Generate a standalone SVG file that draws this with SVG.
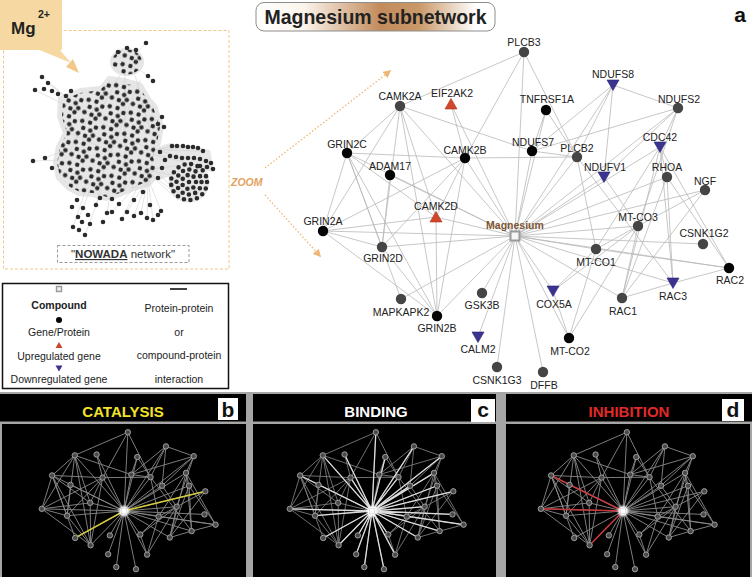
<svg xmlns="http://www.w3.org/2000/svg" xmlns:xlink="http://www.w3.org/1999/xlink" width="752" height="577" viewBox="0 0 752 577">
<defs>
<style>
.lbl{font-family:"Liberation Sans",Arial,sans-serif;font-size:10.5px;fill:#222;text-anchor:middle}
.g{fill:#454545}
.k{fill:#050505}
.up{fill:#d2472b;stroke:#a9321b;stroke-width:0.6}
.dn{fill:#3a3490;stroke:#28226e;stroke-width:0.6}
.leg{font-family:"Liberation Sans",Arial,sans-serif;font-size:10.5px;fill:#222;text-anchor:middle}
.hdr{font-family:"Liberation Sans",Arial,sans-serif;font-size:15px;font-weight:bold;text-anchor:middle}
.tag{font-family:"Liberation Sans",Arial,sans-serif;font-size:21px;font-weight:bold;text-anchor:middle;fill:#111}
.hb{stroke:#2b2b2b;stroke-width:4.6;stroke-linecap:round;fill:none}
</style>
<linearGradient id="titleGrad" x1="0" x2="1" y1="0" y2="0">
<stop offset="0" stop-color="#ffffff"/>
<stop offset="0.2" stop-color="#fbf4ec"/>
<stop offset="0.52" stop-color="#c38b5c"/>
<stop offset="0.68" stop-color="#c99868"/>
<stop offset="0.92" stop-color="#ffffff"/>
<stop offset="1" stop-color="#ffffff"/>
</linearGradient>
<pattern id="dots" width="22" height="22" patternUnits="userSpaceOnUse" patternTransform="rotate(17)">
<g fill="#2b2b2b">
<circle cx="4" cy="3.5" r="2.25"/><circle cx="12" cy="3" r="2.25"/><circle cx="19" cy="6" r="2.25"/>
<circle cx="7" cy="10" r="2.25"/><circle cx="14.5" cy="10.5" r="2.25"/><circle cx="3.5" cy="16.5" r="2.25"/>
<circle cx="11" cy="17" r="2.25"/><circle cx="18.5" cy="14.5" r="2.25"/><circle cx="16" cy="19.5" r="2.25"/>
</g>
</pattern>
<marker id="zarrow" viewBox="0 0 10 10" refX="8" refY="5" markerWidth="8" markerHeight="8" orient="auto" markerUnits="userSpaceOnUse">
<path d="M0,0 L10,5 L0,10 z" fill="#f0b677"/>
</marker>
<filter id="glow" x="-2" y="-2" width="5" height="5"><feGaussianBlur stdDeviation="2.5"/></filter>
<g id="miniNodes">
<circle cx="524" cy="52" r="6.3"/><circle cx="613" cy="85" r="6.3"/><circle cx="678" cy="108" r="6.3"/>
<circle cx="400" cy="106" r="6.3"/><circle cx="451" cy="104" r="6.3"/><circle cx="546" cy="110" r="6.3"/>
<circle cx="347" cy="153" r="6.3"/><circle cx="465" cy="158" r="6.3"/><circle cx="532" cy="151" r="6.3"/>
<circle cx="577" cy="157" r="6.3"/><circle cx="660" cy="147" r="6.3"/><circle cx="390" cy="175" r="6.3"/>
<circle cx="604" cy="177" r="6.3"/><circle cx="667" cy="177" r="6.3"/><circle cx="705" cy="190" r="6.3"/>
<circle cx="436" cy="217" r="6.3"/><circle cx="323" cy="231" r="6.3"/><circle cx="638" cy="226" r="6.3"/>
<circle cx="703" cy="244" r="6.3"/><circle cx="382" cy="247" r="6.3"/><circle cx="596" cy="249" r="6.3"/>
<circle cx="729" cy="268" r="6.3"/><circle cx="673" cy="283" r="6.3"/><circle cx="553" cy="291" r="6.3"/>
<circle cx="482" cy="293" r="6.3"/><circle cx="622" cy="298" r="6.3"/><circle cx="401" cy="299" r="6.3"/>
<circle cx="437" cy="316" r="6.3"/><circle cx="478" cy="337" r="6.3"/><circle cx="569" cy="338" r="6.3"/>
<circle cx="497" cy="367" r="6.3"/><circle cx="543" cy="372" r="6.3"/>
</g>
<path id="hubLines" d="M515 236L400 106M515 236L451 104M515 236L347 153M515 236L323 231M515 236L382 247M515 236L401 299M515 236L437 316M515 236L478 337M515 236L497 367M515 236L543 372M515 236L569 338M515 236L622 298M515 236L673 283M515 236L729 268M515 236L703 244M515 236L705 190M515 236L660 147M515 236L678 108M515 236L613 85M515 236L546 110M515 236L524 52M515 236L667 177M515 236L638 226M515 236L577 157M515 236L465 158M515 236L482 293M515 236L553 291M515 236L604 177"/>
</defs>

<rect width="752" height="577" fill="#ffffff"/>

<!-- Left: NOWADA network overview -->
<g id="overview">
<rect x="3.5" y="30.5" width="225.5" height="238.5" fill="none" stroke="#f3c58a" stroke-width="1" stroke-dasharray="3 2"/>
<g fill="#e6e6e6">
<polygon points="58,97 80,88 100,86 108,76 125,78 142,83 150,97 157,105 164,126 161,143 157,157 161,174 150,186 134,191 120,197 106,201 92,197 78,196 67,190 56,179 53,163 56,146 63,133 57,117"/>
<ellipse cx="127" cy="62" rx="17" ry="14"/>
<circle cx="189" cy="182" r="20.5"/>
<polygon points="150,150 170,143 210,150 214,172 190,168 160,180"/>
</g>
<g stroke="#d2d2d2" stroke-width="0.6" fill="none">
<path d="M148 178L127 212M148 178L141 213M148 178L153 220M148 178L161 211M148 178L147 218M148 178L134 216M140 182L112 212M140 182L122 219M145 170L172 175M145 170L172 190M145 170L178 200M145 170L175 166M150 165L185 200M155 150L172 146M155 150L190 147M155 150L203 151M155 150L211 163M155 155L213 169M140 70L153 81M130 60L146 43M42 77L70 100M35 90L65 105M48 83L72 102M33 161L60 160M45 158L65 150M80 215L90 190M85 235L100 195M73 227L85 192M107 213L110 195M96 205L100 190M120 75L95 120M135 75L150 130M110 80L70 150M140 80L100 180M125 72L125 190M150 150L80 110M152 170L62 130"/>
</g>
<polygon points="63,100 80,93 100,90 110,80 123,83 140,87 147,100 153,107 160,127 157,143 153,157 157,173 147,182 133,187 120,193 107,197 93,193 80,192 70,187 60,177 57,163 60,147 67,133 62,117" fill="url(#dots)"/>
<ellipse cx="127" cy="62" rx="15" ry="12.5" fill="url(#dots)"/>
<path class="hb" d="M42 77h0M48 83h0M35 90h0M44 89h0M52 91h0M58 94h0M66 96h0M71 91h0M146 43h0M153 81h0M148 76h0M158 124h0M164 127h0M162 117h0M33 161h0M45 158h0M52 168h0M77 200h0M72 207h0M83 208h0M88 215h0M78 217h0M82 222h0M73 227h0M79 230h0M85 235h0M90 224h0M103 222h0M107 213h0M96 205h0M100 198h0M112 199h0M119 204h0M127 212h0M134 216h0M141 213h0M147 218h0M153 220h0M158 215h0M161 211h0M134 200h0M143 192h0M150 205h0M122 219h0M112 212h0M172 146h0M177 146h0M183 146h0M188 147h0M193 147h0M198 148h0M203 151h0M170 156h0M176 157h0M182 158h0M188 158h0M194 158h0M200 159h0M206 161h0M211 163h0M213 169h0M207 167h0M200 166h0M160 152h0M165 160h0M162 168h0M158 178h0M118 52h0M136 50h0M127 48h0"/>
<g fill="none" stroke="#2b2b2b" stroke-width="4.6" stroke-linecap="round">
<circle cx="189" cy="182" r="18" stroke-dasharray="0 6.65"/>
<circle cx="189" cy="182" r="12.5" stroke-dasharray="0 6.54"/>
<circle cx="189" cy="182" r="7" stroke-dasharray="0 6.28"/>
<path d="M189 182h0"/>
</g>
<rect x="57.5" y="245.5" width="131.5" height="17" fill="#ffffff" stroke="#999" stroke-width="1" stroke-dasharray="3 2"/>
<text x="123" y="258" font-family="Liberation Sans, Arial, sans-serif" font-size="11.5" fill="#333" text-anchor="middle">"<tspan font-weight="bold" text-decoration="underline">NOWADA</tspan> network"</text>
</g>

<!-- Mg2+ callout -->
<g id="mg-callout">
<rect x="0" y="0" width="62" height="50" fill="#f6d9a2"/>
<polygon points="37,49 59,49 71,63" fill="#f6d9a2"/>
<polygon points="66,67 73,59 79,73" fill="#f0c88a"/>
<text x="11" y="34" font-family="Liberation Sans, Arial, sans-serif" font-size="17" font-weight="bold" fill="#222">Mg</text>
<text x="38" y="18" font-family="Liberation Sans, Arial, sans-serif" font-size="10.5" font-weight="bold" fill="#222">2+</text>
</g>

<!-- zoom arrows -->
<g id="zoom">
<g stroke="#f0b677" stroke-width="1.3" stroke-dasharray="1.5 2" fill="none">
<line x1="265" y1="168" x2="390" y2="71" marker-end="url(#zarrow)"/>
<line x1="265" y1="195" x2="320" y2="256" marker-end="url(#zarrow)"/>
</g>
<text x="231" y="186" font-family="Liberation Sans, Arial, sans-serif" font-size="10.5" font-weight="bold" font-style="italic" fill="#e3a35f">ZOOM</text>
</g>

<!-- Title -->
<g id="title">
<rect x="256" y="2.5" width="239" height="28.5" rx="8" fill="url(#titleGrad)" stroke="#8d8d8d" stroke-width="1"/>
<text x="375.5" y="24" font-family="Liberation Sans, Arial, sans-serif" font-size="19.5" font-weight="bold" fill="#222" text-anchor="middle">Magnesium subnetwork</text>
</g>
<text class="tag" x="740" y="22">a</text>

<!-- Connectors -->
<g stroke="#b9b9b9" stroke-width="0.8" fill="none">
<g id="connectors">
<line x1="515" y1="236" x2="524" y2="52"/><line x1="515" y1="236" x2="613" y2="85"/><line x1="515" y1="236" x2="678" y2="108"/>
<line x1="515" y1="236" x2="400" y2="106"/><line x1="515" y1="236" x2="451" y2="104"/><line x1="515" y1="236" x2="546" y2="110"/>
<line x1="515" y1="236" x2="347" y2="153"/><line x1="515" y1="236" x2="465" y2="158"/><line x1="515" y1="236" x2="532" y2="151"/>
<line x1="515" y1="236" x2="577" y2="157"/><line x1="515" y1="236" x2="660" y2="147"/><line x1="515" y1="236" x2="390" y2="175"/>
<line x1="515" y1="236" x2="604" y2="177"/><line x1="515" y1="236" x2="667" y2="177"/><line x1="515" y1="236" x2="705" y2="190"/>
<line x1="515" y1="236" x2="436" y2="217"/><line x1="515" y1="236" x2="323" y2="231"/><line x1="515" y1="236" x2="638" y2="226"/>
<line x1="515" y1="236" x2="703" y2="244"/><line x1="515" y1="236" x2="382" y2="247"/><line x1="515" y1="236" x2="596" y2="249"/>
<line x1="515" y1="236" x2="729" y2="268"/><line x1="515" y1="236" x2="673" y2="283"/><line x1="515" y1="236" x2="553" y2="291"/>
<line x1="515" y1="236" x2="482" y2="293"/><line x1="515" y1="236" x2="622" y2="298"/><line x1="515" y1="236" x2="401" y2="299"/>
<line x1="515" y1="236" x2="437" y2="316"/><line x1="515" y1="236" x2="478" y2="337"/><line x1="515" y1="236" x2="569" y2="338"/>
<line x1="515" y1="236" x2="497" y2="367"/><line x1="515" y1="236" x2="543" y2="372"/>
<line x1="524" y1="52" x2="400" y2="106"/><line x1="524" y1="52" x2="465" y2="158"/><line x1="524" y1="52" x2="577" y2="157"/>
<line x1="613" y1="85" x2="678" y2="108"/><line x1="613" y1="85" x2="532" y2="151"/><line x1="613" y1="85" x2="604" y2="177"/>
<line x1="613" y1="85" x2="577" y2="157"/><line x1="678" y1="108" x2="532" y2="151"/><line x1="678" y1="108" x2="660" y2="147"/>
<line x1="678" y1="108" x2="604" y2="177"/><line x1="678" y1="108" x2="638" y2="226"/>
<line x1="400" y1="106" x2="347" y2="153"/><line x1="400" y1="106" x2="323" y2="231"/><line x1="400" y1="106" x2="382" y2="247"/>
<line x1="400" y1="106" x2="436" y2="217"/><line x1="400" y1="106" x2="437" y2="316"/><line x1="400" y1="106" x2="532" y2="151"/>
<line x1="451" y1="104" x2="465" y2="158"/><line x1="546" y1="110" x2="577" y2="157"/><line x1="546" y1="110" x2="532" y2="151"/>
<line x1="347" y1="153" x2="465" y2="158"/><line x1="347" y1="153" x2="323" y2="231"/><line x1="347" y1="153" x2="382" y2="247"/>
<line x1="347" y1="153" x2="436" y2="217"/><line x1="347" y1="153" x2="437" y2="316"/><line x1="347" y1="153" x2="401" y2="299"/>
<line x1="465" y1="158" x2="577" y2="157"/><line x1="465" y1="158" x2="323" y2="231"/><line x1="465" y1="158" x2="382" y2="247"/>
<line x1="465" y1="158" x2="437" y2="316"/><line x1="465" y1="158" x2="436" y2="217"/><line x1="390" y1="175" x2="382" y2="247"/>
<line x1="436" y1="217" x2="437" y2="316"/><line x1="436" y1="217" x2="323" y2="231"/><line x1="323" y1="231" x2="382" y2="247"/>
<line x1="323" y1="231" x2="437" y2="316"/><line x1="382" y1="247" x2="437" y2="316"/>
<line x1="532" y1="151" x2="577" y2="157"/><line x1="577" y1="157" x2="596" y2="249"/><line x1="577" y1="157" x2="673" y2="283"/>
<line x1="604" y1="177" x2="638" y2="226"/>
<line x1="660" y1="147" x2="667" y2="177"/><line x1="660" y1="147" x2="622" y2="298"/><line x1="660" y1="147" x2="729" y2="268"/>
<line x1="660" y1="147" x2="673" y2="283"/><line x1="660" y1="147" x2="596" y2="249"/>
<line x1="667" y1="177" x2="622" y2="298"/><line x1="667" y1="177" x2="729" y2="268"/><line x1="667" y1="177" x2="673" y2="283"/>
<line x1="705" y1="190" x2="622" y2="298"/><line x1="705" y1="190" x2="638" y2="226"/>
<line x1="638" y1="226" x2="596" y2="249"/><line x1="638" y1="226" x2="553" y2="291"/><line x1="638" y1="226" x2="622" y2="298"/>
<line x1="638" y1="226" x2="569" y2="338"/><line x1="596" y1="249" x2="553" y2="291"/><line x1="596" y1="249" x2="569" y2="338"/>
<line x1="596" y1="249" x2="729" y2="268"/><line x1="622" y1="298" x2="673" y2="283"/><line x1="673" y1="283" x2="729" y2="268"/>
<line x1="553" y1="291" x2="569" y2="338"/>
</g>
</g>

<!-- Nodes -->
<g id="nodes">
<g id="n-PLCB3"><circle class="g" cx="524" cy="52" r="5.2"/><text class="lbl" x="524" y="46">PLCB3</text></g>
<g id="n-NDUFS8"><polygon class="dn" points="607,80 619,80 613,90.5"/><text class="lbl" x="613" y="78">NDUFS8</text></g>
<g id="n-NDUFS2"><circle class="g" cx="678" cy="108" r="5.2"/><text class="lbl" x="679" y="103">NDUFS2</text></g>
<g id="n-CAMK2A"><circle class="g" cx="400" cy="106" r="5.2"/><text class="lbl" x="400" y="100">CAMK2A</text></g>
<g id="n-EIF2AK2"><polygon class="up" points="445,109 457,109 451,98.5"/><text class="lbl" x="452" y="97">EIF2AK2</text></g>
<g id="n-TNFRSF1A"><circle class="k" cx="546" cy="110" r="5.2"/><text class="lbl" x="547" y="103">TNFRSF1A</text></g>
<g id="n-GRIN2C"><circle class="k" cx="347" cy="153" r="5.2"/><text class="lbl" x="347" y="148">GRIN2C</text></g>
<g id="n-CAMK2B"><circle class="k" cx="465" cy="158" r="5.2"/><text class="lbl" x="465" y="154">CAMK2B</text></g>
<g id="n-NDUFS7"><circle class="k" cx="532" cy="151" r="5.2"/><text class="lbl" x="533" y="146">NDUFS7</text></g>
<g id="n-PLCB2"><circle class="g" cx="577" cy="157" r="5.2"/><text class="lbl" x="577" y="152">PLCB2</text></g>
<g id="n-CDC42"><polygon class="dn" points="654,142 666,142 660,152.5"/><text class="lbl" x="660" y="141">CDC42</text></g>
<g id="n-ADAM17"><circle class="k" cx="390" cy="175" r="5.2"/><text class="lbl" x="390" y="170">ADAM17</text></g>
<g id="n-NDUFV1"><polygon class="dn" points="598,172 610,172 604,182.5"/><text class="lbl" x="605" y="171">NDUFV1</text></g>
<g id="n-RHOA"><circle class="g" cx="667" cy="177" r="5.2"/><text class="lbl" x="667" y="171">RHOA</text></g>
<g id="n-NGF"><circle class="g" cx="705" cy="190" r="5.2"/><text class="lbl" x="705" y="185">NGF</text></g>
<g id="n-CAMK2D"><polygon class="up" points="430,222 442,222 436,211.5"/><text class="lbl" x="436" y="210">CAMK2D</text></g>
<g id="n-GRIN2A"><circle class="k" cx="323" cy="231" r="5.2"/><text class="lbl" x="323" y="225">GRIN2A</text></g>
<g id="n-Magnesium"><rect x="510.5" y="231.5" width="9" height="9" fill="#f6f6f6" stroke="#9a9a9a" stroke-width="2"/><text class="lbl" x="515" y="229" style="fill:#7d5634;font-weight:bold">Magnesium</text></g>
<g id="n-MT-CO3"><circle class="g" cx="638" cy="226" r="5.2"/><text class="lbl" x="638" y="221">MT-CO3</text></g>
<g id="n-CSNK1G2"><circle class="g" cx="703" cy="244" r="5.2"/><text class="lbl" x="704" y="237">CSNK1G2</text></g>
<g id="n-GRIN2D"><circle class="g" cx="382" cy="247" r="5.2"/><text class="lbl" x="383" y="262">GRIN2D</text></g>
<g id="n-MT-CO1"><circle class="g" cx="596" cy="249" r="5.2"/><text class="lbl" x="596" y="266">MT-CO1</text></g>
<g id="n-RAC2"><circle class="k" cx="729" cy="268" r="5.2"/><text class="lbl" x="730" y="284">RAC2</text></g>
<g id="n-RAC3"><polygon class="dn" points="667,278 679,278 673,288.5"/><text class="lbl" x="673" y="300">RAC3</text></g>
<g id="n-COX5A"><polygon class="dn" points="547,286 559,286 553,296.5"/><text class="lbl" x="554" y="308">COX5A</text></g>
<g id="n-GSK3B"><circle class="g" cx="482" cy="293" r="5.2"/><text class="lbl" x="482" y="309">GSK3B</text></g>
<g id="n-RAC1"><circle class="g" cx="622" cy="298" r="5.2"/><text class="lbl" x="623" y="315">RAC1</text></g>
<g id="n-MAPKAPK2"><circle class="g" cx="401" cy="299" r="5.2"/><text class="lbl" x="401" y="316">MAPKAPK2</text></g>
<g id="n-GRIN2B"><circle class="k" cx="437" cy="316" r="5.2"/><text class="lbl" x="437" y="332">GRIN2B</text></g>
<g id="n-CALM2"><polygon class="dn" points="472,332 484,332 478,342.5"/><text class="lbl" x="478" y="353">CALM2</text></g>
<g id="n-MT-CO2"><circle class="k" cx="569" cy="338" r="5.2"/><text class="lbl" x="570" y="355">MT-CO2</text></g>
<g id="n-CSNK1G3"><circle class="g" cx="497" cy="367" r="5.2"/><text class="lbl" x="497" y="384">CSNK1G3</text></g>
<g id="n-DFFB"><circle class="g" cx="543" cy="372" r="5.2"/><text class="lbl" x="544" y="389">DFFB</text></g>
</g>

<!-- Legend -->
<g id="legend">
<rect x="2.5" y="283.5" width="226" height="105" fill="#ffffff" stroke="#111" stroke-width="1.5"/>
<rect x="56.5" y="286.5" width="5" height="5" fill="#eee" stroke="#999" stroke-width="1.4"/>
<text class="leg" x="59" y="309" font-weight="bold">Compound</text>
<circle cx="59" cy="320" r="3" fill="#050505"/>
<text class="leg" x="59" y="336">Gene/Protein</text>
<polygon points="55.5,348 62.5,348 59,342" fill="#c8482e"/>
<text class="leg" x="59" y="360">Upregulated gene</text>
<polygon points="55.5,365.5 62.5,365.5 59,371.5" fill="#3a3490"/>
<text class="leg" x="59" y="383">Downregulated gene</text>
<line x1="170" y1="289" x2="187" y2="289" stroke="#111" stroke-width="1.6"/>
<text class="leg" x="179" y="312">Protein-protein</text>
<text class="leg" x="179" y="336">or</text>
<text class="leg" x="179" y="359">compound-protein</text>
<text class="leg" x="179" y="383">interaction</text>
</g>

<!-- Bottom panels -->
<rect x="0" y="392" width="752" height="185" fill="#a6a6a6"/>
<g id="panel-b">
<rect x="0" y="394" width="246" height="27.5" fill="#000"/>
<text class="hdr" x="123" y="416.5" fill="#f2e22a">CATALYSIS</text>
<rect x="218" y="398" width="20" height="22" fill="#fff"/>
<text class="tag" x="228" y="416.5">b</text>
<rect x="2" y="424" width="244" height="153" fill="#000"/>
<g transform="translate(-96.42,409.99) scale(0.428)">
<use href="#connectors" xlink:href="#connectors" stroke="#8a8a8a" stroke-width="2.1" fill="none"/>
<g stroke="#d5cc3c" stroke-width="3.5"><line x1="515" y1="236" x2="401" y2="299"/><line x1="515" y1="236" x2="705" y2="190"/></g>
<use href="#miniNodes" xlink:href="#miniNodes" fill="#4a4a4a" stroke="#a0a0a0" stroke-width="2.3"/>
<circle cx="515" cy="236" r="12" fill="#fff" filter="url(#glow)"/>
<rect x="509" y="230" width="12" height="12" fill="#fff" stroke="#ddd" stroke-width="2"/>
</g>
</g>
<g id="panel-c">
<rect x="253" y="394" width="243" height="27.5" fill="#000"/>
<text class="hdr" x="376" y="416.5" fill="#ffffff">BINDING</text>
<rect x="471" y="399" width="24" height="23" fill="#fff"/>
<text class="tag" x="483" y="417">c</text>
<rect x="253" y="424" width="243" height="153" fill="#000"/>
<g transform="translate(151.58,409.99) scale(0.428)">
<use href="#connectors" xlink:href="#connectors" stroke="#7a7a7a" stroke-width="2.1" fill="none"/>
<use href="#hubLines" xlink:href="#hubLines" stroke="#dcdcdc" stroke-width="3" fill="none"/>
<use href="#miniNodes" xlink:href="#miniNodes" fill="#4a4a4a" stroke="#a0a0a0" stroke-width="2.3"/>
<circle cx="515" cy="236" r="12" fill="#fff" filter="url(#glow)"/>
<rect x="509" y="230" width="12" height="12" fill="#fff" stroke="#ddd" stroke-width="2"/>
</g>
</g>
<g id="panel-d">
<rect x="506" y="394" width="246" height="27.5" fill="#000"/>
<text class="hdr" x="629" y="416.5" fill="#e02a2a">INHIBITION</text>
<rect x="722" y="399" width="22" height="22" fill="#fff"/>
<text class="tag" x="733" y="417">d</text>
<rect x="506" y="424" width="244" height="153" fill="#000"/>
<g transform="translate(402.58,409.99) scale(0.428)">
<use href="#connectors" xlink:href="#connectors" stroke="#8a8a8a" stroke-width="2.1" fill="none"/>
<g stroke="#c8383c" stroke-width="3.5"><line x1="515" y1="236" x2="347" y2="153"/><line x1="515" y1="236" x2="323" y2="231"/><line x1="515" y1="236" x2="437" y2="316"/></g>
<use href="#miniNodes" xlink:href="#miniNodes" fill="#4a4a4a" stroke="#a0a0a0" stroke-width="2.3"/>
<circle cx="515" cy="236" r="12" fill="#fff" filter="url(#glow)"/>
<rect x="509" y="230" width="12" height="12" fill="#fff" stroke="#ddd" stroke-width="2"/>
</g>
</g>
</svg>
